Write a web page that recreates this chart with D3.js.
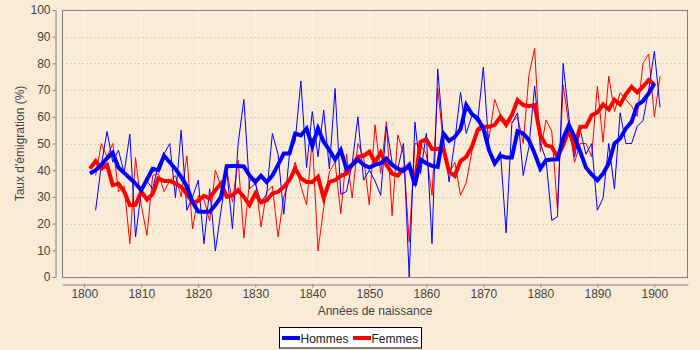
<!DOCTYPE html>
<html>
<head>
<meta charset="utf-8">
<script src="https://cdn.jsdelivr.net/npm/d3@7"></script>
<style>
  html, body { margin: 0; padding: 0; background: #FAEBD7; }
  svg { display: block; font-family: "Liberation Sans", Arial, sans-serif; }
</style>
</head>
<body>
<svg id="chart" width="700" height="350"></svg>
<script>
// Birth-year cohorts
const smoothStart = 1801;   // smoothed series: 1801–1900
const annualStart = 1802;   // annual series: 1802–1901

// Emigration rate (%), smoothed, men
const hommesLisse = [
  38.8, 40, 42, 44.5, 46.5, 41, 39, 37, 35, 32.5,
  36.5, 40.5, 40, 45.5, 43, 40.5, 37.5, 34, 28, 24.5,
  24.4, 24.4, 27, 30, 41.5, 41.6, 41.6, 41.4, 38, 35.6,
  37.9, 35.6, 38, 42, 46.25, 46.25, 53.75, 53, 55.6, 49,
  55.6, 50.6, 47.5, 44, 47.5, 40.4, 42, 44, 42, 41,
  42, 42.6, 44.4, 42, 40.6, 39.75, 42, 34.4, 44, 42.6,
  41.6, 41.25, 53.75, 51, 52.5, 55.4, 64.4, 61, 59.4, 55.6,
  47.5, 42.5, 45.4, 44.75, 44.75, 54.6, 53.75, 51.25, 46.25, 40.6,
  43.75, 44, 44.1, 51.9, 56.9, 52.5, 46.9, 41, 38.4, 36.25,
  38.75, 42.5, 50, 51.9, 55.6, 58.1, 64.4, 65.9, 68.75, 72.5
];

// Emigration rate (%), smoothed, women
const femmesLisse = [
  40.6, 43.4, 40.6, 42, 34.4, 35, 32, 26.9, 27, 32,
  29, 31, 36.9, 36, 36, 35, 33.75, 31, 27.9, 28.5,
  30.4, 29.4, 32.5, 35, 30, 30.6, 32.5, 30, 26.9, 31.25,
  28, 28.75, 31.25, 31.9, 33.75, 36.25, 40.6, 37, 35.6, 35.6,
  37.5, 29.6, 35.6, 36.25, 37.9, 38.75, 42, 45, 45.4, 46.9,
  43, 46.6, 42, 38.75, 38, 40.6, 41.25, 36, 50.6, 51.6,
  47.9, 47.9, 47.9, 39.4, 37.9, 43.4, 45, 48.75, 55, 56.25,
  56.25, 57, 60, 57, 60.6, 66.25, 64.4, 64, 64.4, 53,
  49.4, 48.75, 45, 49.4, 55, 48.75, 56.25, 56.25, 60.6, 61.6,
  64.6, 62.75, 66.4, 64.6, 68.4, 71.25, 69.1, 71.25, 73.75, 72.1
];

// Emigration rate (%), yearly, men
const hommesAnnuel = [
  25, 42, 54.5, 43, 47.5, 39, 53.5, 15, 32, 36,
  33, 42, 46, 50, 29.7, 55, 25, 30, 36.25, 12.5,
  33, 9.75, 25, 40, 18, 50, 66.5, 33, 35, 28,
  31, 53.75, 46, 23.5, 46, 51, 73.4, 41, 62, 45,
  62.5, 40.5, 70.6, 31, 32, 42.5, 60, 36.25, 40, 36,
  30.6, 56.5, 43, 40.6, 50, 0, 58, 38.75, 53.75, 12.5,
  77.9, 52, 35.6, 51, 69.2, 53.75, 60.5, 58, 78.6, 48,
  43, 47, 16.5, 57.5, 61.5, 38, 48.75, 71.5, 50, 44,
  21.25, 22.5, 80, 60, 45, 55, 46, 50, 25, 29.5,
  50, 33, 61.5, 50, 50, 56.5, 58.5, 70, 84.5, 63.5
];

// Emigration rate (%), yearly, women
const femmesAnnuel = [
  38, 50, 45, 50, 32, 34, 12.5, 44.7, 27, 15.6,
  38, 38.75, 32, 36, 38, 30, 45.4, 18, 30.5, 29,
  21, 40, 34, 40, 28, 43.75, 14.6, 36, 37, 18.75,
  32, 34, 15, 30, 36, 43, 34, 27, 52, 9.75,
  26, 39.4, 43, 23.75, 46, 29.6, 50, 45, 27, 57,
  38.75, 58.2, 23, 53.2, 46, 13, 50, 49.5, 46, 30.6,
  70.6, 50, 38.75, 43, 30.6, 35.3, 47, 56, 57, 52,
  66.5, 60.6, 58.5, 58, 60, 50, 75.6, 85.6, 47, 58.75,
  54.7, 25.6, 72, 57, 43, 50, 50, 45, 71.5, 50.5,
  75.2, 62, 69, 66.5, 64, 60.2, 80, 83.5, 60, 75.2
];

const xTicks = d3.range(1800, 1901, 10);
const yTicks = d3.range(0, 101, 10);

const seriesNames = ["Hommes", "Femmes"];
const seriesColors = ["#0000FF", "#FF0000"];

const svg = d3.select("#chart");
const W = 700, H = 350;
const plot = { left: 62, right: 688, top: 10, bottom: 277 };

const x = d3.scaleLinear().domain([1796.1, 1905.9]).range([plot.left, plot.right]);
const y = d3.scaleLinear().domain([0, 100]).range([plot.bottom, plot.top]);

svg.append("rect").attr("width", W).attr("height", H).attr("fill", "#FAEBD7");
svg.append("rect")
  .attr("x", plot.left).attr("y", plot.top)
  .attr("width", plot.right - plot.left).attr("height", plot.bottom - plot.top)
  .attr("fill", "#FAEBD7");

// grid
svg.append("g").selectAll("line").data(xTicks).join("line")
  .attr("x1", d => x(d)).attr("x2", d => x(d))
  .attr("y1", plot.top).attr("y2", plot.bottom)
  .attr("stroke", "#FFFFFF").attr("stroke-width", 1)
  .attr("stroke-dasharray", "2,2");
svg.append("g").selectAll("line").data(yTicks.filter(d => d > 0 && d < 100)).join("line")
  .attr("x1", plot.left).attr("x2", plot.right)
  .attr("y1", d => Math.round(y(d)) + 0.5).attr("y2", d => Math.round(y(d)) + 0.5)
  .attr("stroke", "#D6CCC0").attr("stroke-width", 1)
  .attr("stroke-dasharray", "2,2");

// lines: yearly values thin, smoothed values thick
const lineSmooth = d3.line().x((d, i) => x(smoothStart + i)).y(d => y(d));
const lineAnnual = d3.line().x((d, i) => x(annualStart + i)).y(d => y(d));

const g = svg.append("g");
g.append("path").datum(femmesAnnuel).attr("d", lineAnnual)
  .attr("fill", "none").attr("stroke", seriesColors[1]).attr("stroke-width", 1);
g.append("path").datum(hommesAnnuel).attr("d", lineAnnual)
  .attr("fill", "none").attr("stroke", seriesColors[0]).attr("stroke-width", 1);
g.append("path").datum(femmesLisse).attr("d", lineSmooth)
  .attr("fill", "none").attr("stroke", seriesColors[1]).attr("stroke-width", 4);
g.append("path").datum(hommesLisse).attr("d", lineSmooth)
  .attr("fill", "none").attr("stroke", seriesColors[0]).attr("stroke-width", 4);

// plot outline
svg.append("rect")
  .attr("x", plot.left + 0.5).attr("y", plot.top + 0.5)
  .attr("width", plot.right - plot.left - 1).attr("height", plot.bottom - plot.top)
  .attr("fill", "none").attr("stroke", "#808080").attr("stroke-width", 1);

// axes
const yAxis = svg.append("g").attr("transform", "translate(55.5,0)")
  .call(d3.axisLeft(y).tickValues(yTicks).tickSize(3).tickSizeOuter(0).tickPadding(2));
const xAxis = svg.append("g").attr("transform", "translate(0,284.5)")
  .call(d3.axisBottom(x).tickValues(xTicks).tickFormat(d3.format("d")).tickSize(3).tickSizeOuter(0).tickPadding(2));
[yAxis, xAxis].forEach(a => {
  a.select(".domain").attr("stroke", "#808080");
  a.selectAll(".tick line").attr("stroke", "#808080");
  a.selectAll(".tick text").attr("fill", "#444444")
    .style("font-family", "'Liberation Sans', Arial, sans-serif").style("font-size", "12px");
});

svg.append("text")
  .attr("x", (plot.left + plot.right) / 2).attr("y", 315)
  .attr("text-anchor", "middle").attr("fill", "#444444")
  .style("font-size", "12px").text("Années de naissance");
svg.append("text")
  .attr("transform", `translate(24,${(plot.top + plot.bottom) / 2}) rotate(-90)`)
  .attr("text-anchor", "middle").attr("fill", "#444444")
  .style("font-size", "12px").text("Taux d'émigration (%)");

// legend
const legend = svg.append("g");
legend.append("rect").attr("x", 279.5).attr("y", 327.5).attr("width", 142).attr("height", 20.5)
  .attr("fill", "#FFFFFF").attr("stroke", "#000000").attr("stroke-width", 1);
const itemX = [282, 353];
seriesNames.forEach((name, i) => {
  legend.append("line").attr("x1", itemX[i]).attr("x2", itemX[i] + 18)
    .attr("y1", 338).attr("y2", 338)
    .attr("stroke", seriesColors[i]).attr("stroke-width", 4);
  legend.append("text").attr("x", itemX[i] + 18.5).attr("y", 342.5)
    .attr("fill", "#222222").style("font-size", "12px").text(name);
});
</script>
</body>
</html>
